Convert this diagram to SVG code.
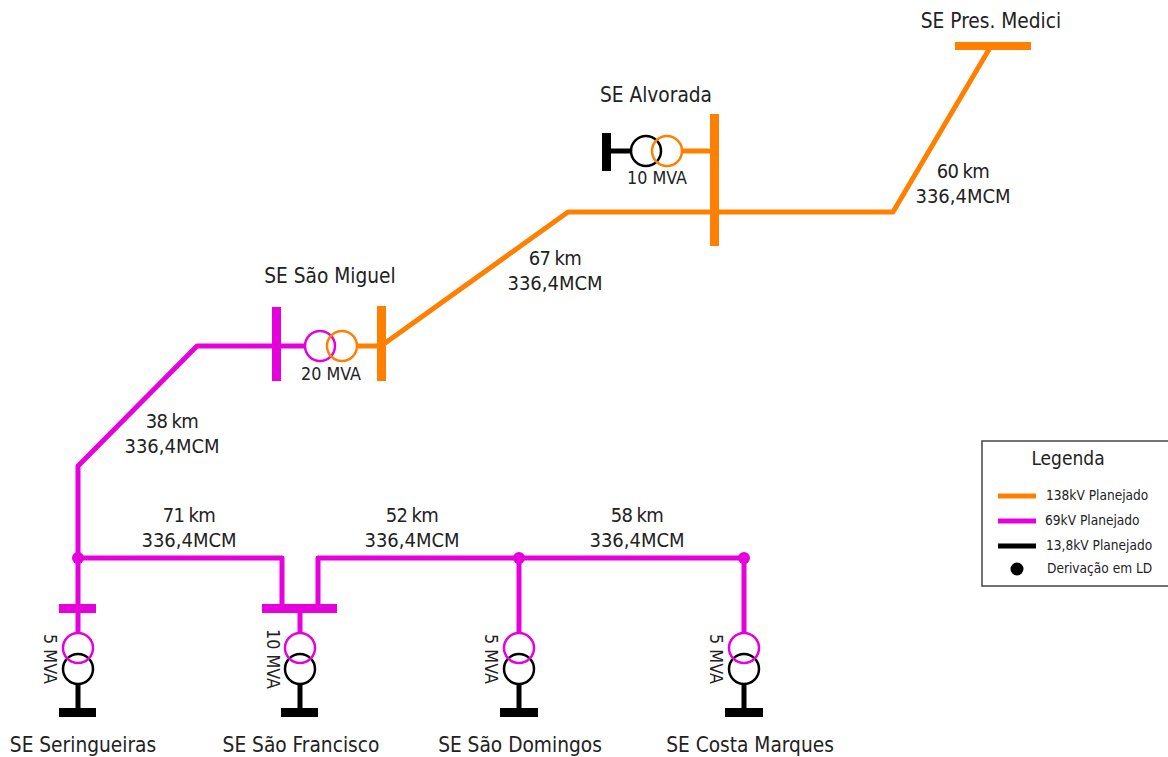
<svg xmlns="http://www.w3.org/2000/svg" width="1168" height="757" viewBox="0 0 1168 757">
<style>
text{font-family:"DejaVu Sans Condensed","DejaVu Sans",sans-serif;font-stretch:condensed;fill:#222;text-anchor:middle}
.n{font-size:20.7px}.l{font-size:20px}.d{word-spacing:-1px;letter-spacing:-.6px}.m{font-size:17.8px}.k{font-size:13.6px;text-anchor:start}.g{font-size:19px}
.w{fill:none;stroke-width:5;stroke-linejoin:round}
.o{stroke:#ff8000}.p{stroke:#e600dc}.b{stroke:#000}
.t{fill:none;stroke-width:2.5}
.bo{fill:#ff8000}.bp{fill:#e600dc}.bb{fill:#000}
</style>
<rect width="1168" height="757" fill="#fff"/>
<g id="connectors">
<path class="w o" d="M381 346L568 212H893L991 46"/>
<path class="w o" d="M357 346H381M682 151H714"/>
<path class="w p" d="M305 346H197L78 466V607M78 558H282V607M519 558H318V607M519 558H744V634M519 558V634M78 607V632M300 607V634"/>
<path class="w b" d="M78 684V712M300 684V712M519 684V712M744 684V712M604 151H632"/>
</g>
<g id="se-pres-medici"><rect class="bo" x="955" y="42" width="76" height="8"/><text class="n" x="991" y="28">SE Pres. Medici</text></g>
<g id="se-alvorada"><rect class="bo" x="710" y="114" width="9" height="132"/><rect class="bb" x="602" y="133" width="9" height="38"/>
<circle class="t b" cx="646" cy="151" r="15"/><circle class="t o" cx="667" cy="151" r="15"/>
<text class="n" x="656" y="102">SE Alvorada</text><text class="m" x="657" y="184">10 MVA</text></g>
<g id="se-sao-miguel"><rect class="bp" x="272" y="307" width="9" height="74"/><rect class="bo" x="377" y="306" width="9" height="75"/>
<circle class="t p" cx="320" cy="346" r="15"/><circle class="t o" cx="342" cy="346" r="15"/>
<text class="n" x="330" y="283">SE São Miguel</text><text class="m" x="331" y="380">20 MVA</text></g>
<g id="se-seringueiras"><rect class="bp" x="59" y="604" width="37" height="9"/><rect class="bb" x="59" y="708" width="37" height="9"/>
<circle class="t b" cx="78" cy="669" r="15"/><circle class="t p" cx="78" cy="648" r="15"/>
<text class="m" transform="translate(49 659) rotate(90)" y="5">5 MVA</text><text class="n" x="83" y="752">SE Seringueiras</text></g>
<g id="se-sao-francisco"><rect class="bp" x="262" y="604" width="75" height="9"/><rect class="bb" x="281" y="708" width="37" height="9"/>
<circle class="t b" cx="300" cy="669" r="15"/><circle class="t p" cx="300" cy="648" r="15"/>
<text class="m" transform="translate(272 659) rotate(90)" y="5">10 MVA</text><text class="n" x="301" y="752">SE São Francisco</text></g>
<g id="se-sao-domingos"><circle class="bp" cx="519" cy="558" r="6"/><rect class="bb" x="500" y="708" width="38" height="9"/>
<circle class="t b" cx="519" cy="669" r="15"/><circle class="t p" cx="519" cy="648" r="15"/>
<text class="m" transform="translate(490 659) rotate(90)" y="5">5 MVA</text><text class="n" x="520" y="752">SE São Domingos</text></g>
<g id="se-costa-marques"><circle class="bp" cx="744" cy="558" r="6"/><rect class="bb" x="725" y="708" width="38" height="9"/>
<circle class="t b" cx="744" cy="669" r="15"/><circle class="t p" cx="744" cy="648" r="15"/>
<text class="m" transform="translate(715 659) rotate(90)" y="5">5 MVA</text><text class="n" x="750" y="752">SE Costa Marques</text></g>
<g id="derivacao"><circle class="bp" cx="78" cy="558" r="6"/></g>
<g id="labels">
<text class="l d" x="963" y="178">60 km</text><text class="l" x="963" y="203">336,4MCM</text>
<text class="l d" x="555" y="265">67 km</text><text class="l" x="555" y="290">336,4MCM</text>
<text class="l d" x="172" y="428">38 km</text><text class="l" x="172" y="453">336,4MCM</text>
<text class="l d" x="189" y="522">71 km</text><text class="l" x="189" y="547">336,4MCM</text>
<text class="l d" x="412" y="522">52 km</text><text class="l" x="412" y="547">336,4MCM</text>
<text class="l d" x="637" y="522">58 km</text><text class="l" x="637" y="547">336,4MCM</text>
</g>
<g id="legenda">
<rect x="982" y="441" width="190" height="145" fill="#fff" stroke="#444" stroke-width="1.5"/>
<text class="g" x="1068" y="465">Legenda</text>
<path class="w o" d="M998 496H1036"/><path class="w p" d="M998 521H1036"/><path class="w b" d="M998 546H1036"/>
<circle class="bb" cx="1017" cy="569" r="6.5"/>
<text class="k" x="1046" y="500">138kV Planejado</text><text class="k" x="1045" y="525">69kV Planejado</text><text class="k" x="1046" y="550">13,8kV Planejado</text><text class="k" x="1047" y="573">Derivação em LD</text>
</g>
</svg>
